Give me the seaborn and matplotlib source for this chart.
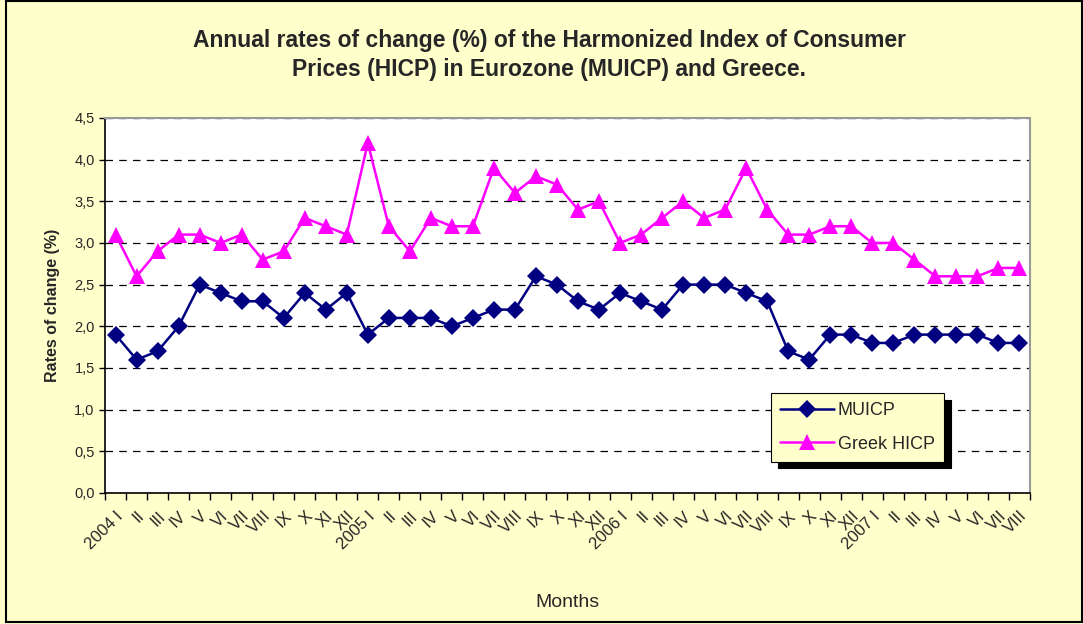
import numpy as np
import pandas as pd
import matplotlib
matplotlib.use("Agg")
import matplotlib.pyplot as plt
import seaborn as sns
from matplotlib.patches import Rectangle

# Monthly labels, Jan 2004 .. Aug 2007
roman = ["I", "II", "III", "IV", "V", "VI", "VII", "VIII", "IX", "X", "XI", "XII"]
months = []
for year in [2004, 2005, 2006, 2007]:
    for i, r in enumerate(roman):
        if year == 2007 and i >= 8:
            break
        months.append(f"{year} {r}" if i == 0 else r)

muicp = [1.9, 1.6, 1.7, 2.0, 2.5, 2.4, 2.3, 2.3, 2.1, 2.4, 2.2, 2.4,
         1.9, 2.1, 2.1, 2.1, 2.0, 2.1, 2.2, 2.2, 2.6, 2.5, 2.3, 2.2,
         2.4, 2.3, 2.2, 2.5, 2.5, 2.5, 2.4, 2.3, 1.7, 1.6, 1.9, 1.9,
         1.8, 1.8, 1.9, 1.9, 1.9, 1.9, 1.8, 1.8]
greek = [3.1, 2.6, 2.9, 3.1, 3.1, 3.0, 3.1, 2.8, 2.9, 3.3, 3.2, 3.1,
         4.2, 3.2, 2.9, 3.3, 3.2, 3.2, 3.9, 3.6, 3.8, 3.7, 3.4, 3.5,
         3.0, 3.1, 3.3, 3.5, 3.3, 3.4, 3.9, 3.4, 3.1, 3.1, 3.2, 3.2,
         3.0, 3.0, 2.8, 2.6, 2.6, 2.6, 2.7, 2.7]

df = pd.DataFrame({
    "idx": list(range(len(months))) * 2,
    "value": muicp + greek,
    "series": ["MUICP"] * len(muicp) + ["Greek HICP"] * len(greek),
})

sns.set_style("white")
plt.rcParams["font.family"] = ["Liberation Sans", "DejaVu Sans"]

bg = "#FFFFCC"
fig = plt.figure(figsize=(10.83, 6.24), dpi=100, facecolor=bg)
ax = fig.add_axes([0.097, 0.21, 0.854, 0.601])
ax.set_facecolor("white")

sns.lineplot(data=df, x="idx", y="value", hue="series", style="series",
             palette={"MUICP": "#000080", "Greek HICP": "#FF00FF"},
             markers={"MUICP": "D", "Greek HICP": "^"},
             dashes=False, markersize=9, linewidth=1.8,
             markeredgewidth=0, ax=ax)
# triangles are drawn a bit larger than the diamonds
for ln in ax.get_lines():
    if ln.get_marker() == "^":
        ln.set_markersize(12)

ax.set_xlim(-0.5, len(months) - 0.5)
ax.set_ylim(0, 4.5)
ax.set_yticks(np.arange(0, 4.51, 0.5))
ax.set_yticklabels([f"{v:.1f}".replace(".", ",") for v in np.arange(0, 4.51, 0.5)], fontsize=10.5)
ax.yaxis.grid(True, linestyle=(0, (6, 5)), color="black", linewidth=0.9)
ax.tick_params(axis="y", left=True, length=4, width=1, color="black")

# category ticks between labels, labels centred on points
ax.set_xticks(np.arange(-0.5, len(months), 1.0))
ax.set_xticklabels([])
ax.set_xticks(range(len(months)), minor=True)
ax.set_xticklabels(months, minor=True, rotation=45, ha="right", va="top",
                   rotation_mode="anchor", fontsize=12)
ax.tick_params(axis="x", which="major", bottom=True, length=5, width=1, color="black")
ax.tick_params(axis="x", which="minor", bottom=False, pad=9)

for side in ["top", "right"]:
    ax.spines[side].set_color("#999999")
    ax.spines[side].set_linewidth(1.5)
for side in ["left", "bottom"]:
    ax.spines[side].set_color("black")
    ax.spines[side].set_linewidth(1.2)

ax.set_xlabel("Months", fontsize=14)
ax.xaxis.set_label_coords(0.5, -0.27)
ax.set_ylabel("Rates of change (%)", fontsize=11.5, fontweight="bold", labelpad=10)

leg = ax.legend(loc="upper left", bbox_to_anchor=(0.71, 0.29), fontsize=13,
                frameon=True, fancybox=False,
                shadow={"color": "black", "alpha": 1, "ox": 5, "oy": -5},
                handlelength=3, borderpad=0.5, labelspacing=0.9, handletextpad=0.2)
leg.get_frame().set_facecolor(bg)
leg.get_frame().set_edgecolor("black")
leg.get_frame().set_linewidth(0.8)

fig.text(0.507, 0.912, "Annual rates of change (%) of the Harmonized Index of Consumer\n"
         "Prices (HICP) in Eurozone (MUICP) and Greece.",
         ha="center", va="center", fontsize=16.5, fontweight="bold", linespacing=1.3)

fig.patches.append(Rectangle((0.006, 0.004), 0.993, 0.995, transform=fig.transFigure,
                             fill=False, edgecolor="black", linewidth=1.5))

fig.savefig("out.png", dpi=100, facecolor=bg)
